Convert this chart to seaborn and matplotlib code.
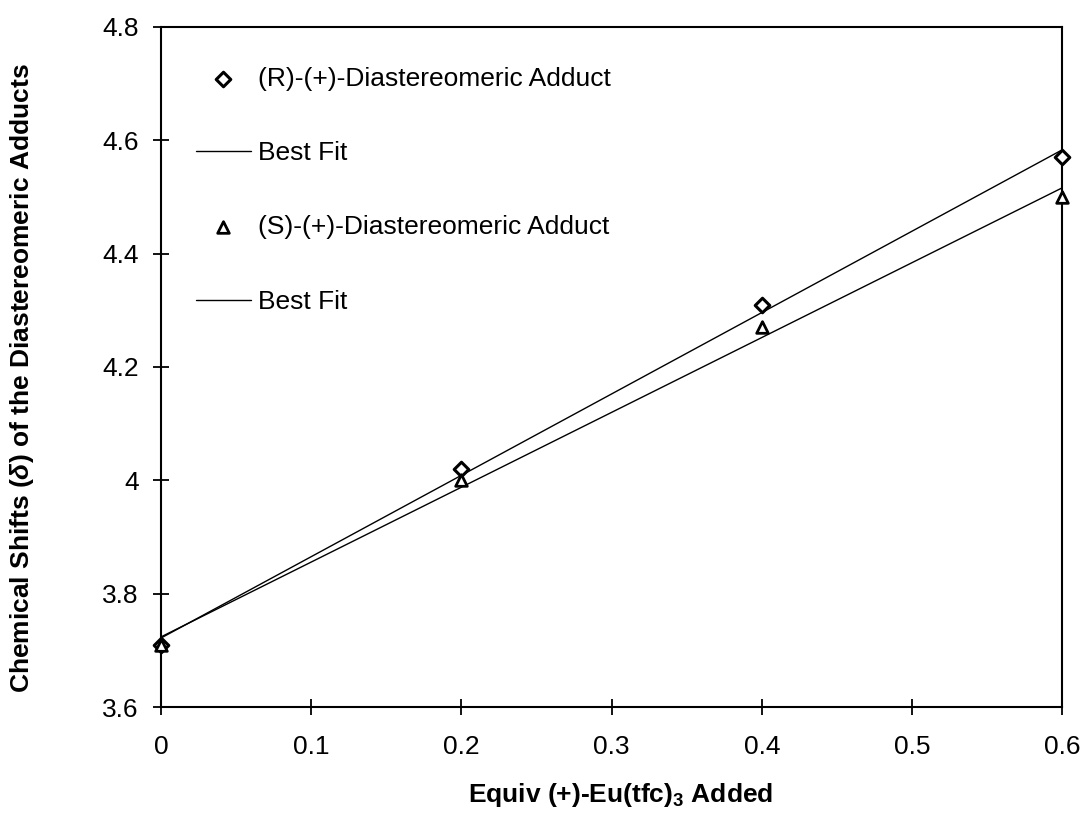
#!/usr/bin/env python
"""Chemical shifts of the diastereomeric adducts vs. equivalents of
(+)-Eu(tfc)3 added, with least-squares best fit lines.
"""
import matplotlib
matplotlib.use('Agg')
import matplotlib.pyplot as plt
import seaborn as sb
import pandas as pd

# values
equiv = [0.0, 0.2, 0.4, 0.6]
shift_r = [3.71, 4.02, 4.31, 4.57]
shift_s = [3.71, 4.00, 4.27, 4.50]

label_r = '(R)-(+)-Diastereomeric Adduct'
label_s = '(S)-(+)-Diastereomeric Adduct'
fit_label = 'Best Fit'

x_ticks = [0, 0.1, 0.2, 0.3, 0.4, 0.5, 0.6]
x_tick_labels = ['0', '0.1', '0.2', '0.3', '0.4', '0.5', '0.6']
y_ticks = [3.6, 3.8, 4.0, 4.2, 4.4, 4.6, 4.8]
y_tick_labels = ['3.6', '3.8', '4', '4.2', '4.4', '4.6', '4.8']


def main():
    sb.set_style('ticks')
    plt.rcParams['font.family'] = ['Liberation Sans', 'DejaVu Sans']
    plt.rcParams['text.color'] = 'black'
    plt.rcParams['axes.labelcolor'] = 'black'
    plt.rcParams['mathtext.fontset'] = 'custom'
    plt.rcParams['mathtext.rm'] = 'Liberation Sans'
    plt.rcParams['mathtext.it'] = 'Liberation Sans:italic:bold'
    plt.rcParams['mathtext.bf'] = 'Liberation Sans:bold'

    df = pd.DataFrame({'equiv': equiv, 'r': shift_r, 's': shift_s})

    fig = plt.figure(figsize=(10.84, 8.35), dpi=100)
    ax = fig.add_axes([0.1485, 0.153, 0.8315, 0.815])

    # best fit lines
    sb.regplot(x='equiv', y='r', data=df, scatter=False, ci=None, truncate=True,
               ax=ax, label=fit_label, line_kws={'color': 'black', 'lw': 1.0})
    sb.regplot(x='equiv', y='s', data=df, scatter=False, ci=None, truncate=True,
               ax=ax, label=fit_label, line_kws={'color': 'black', 'lw': 1.0})

    # data points, open markers
    sb.scatterplot(x='equiv', y='r', data=df, marker='D', s=55, facecolor='white',
                   edgecolor='black', linewidth=2.2, ax=ax, label=label_r,
                   zorder=3, clip_on=False)
    sb.scatterplot(x='equiv', y='s', data=df, marker='^', s=70, facecolor='white',
                   edgecolor='black', linewidth=2.0, ax=ax, label=label_s,
                   zorder=3, clip_on=False)

    ax.set_xlim(0, 0.6)
    ax.set_ylim(3.6, 4.8)
    ax.set_xticks(x_ticks)
    ax.set_xticklabels(x_tick_labels)
    ax.set_yticks(y_ticks)
    ax.set_yticklabels(y_tick_labels)
    ax.tick_params(direction='inout', length=12, width=1.3, labelsize=19,
                   colors='black')
    ax.tick_params(axis='x', pad=14)
    ax.tick_params(axis='y', pad=10)
    for side in ['left', 'right', 'top', 'bottom']:
        ax.spines[side].set_visible(True)
        ax.spines[side].set_linewidth(1.5)
        ax.spines[side].set_color('black')

    ax.set_xlabel(r'Equiv (+)-Eu(tfc)$_\mathbf{3}$ Added', fontsize=19,
                  fontweight='bold')
    ax.set_ylabel(r'Chemical Shifts ($\mathit{\delta}$) of the Diastereomeric Adducts',
                  fontsize=19, fontweight='bold')
    ax.xaxis.set_label_coords(0.51, -0.109)
    ax.yaxis.set_label_coords(-0.139, 0.484)

    # legend, ordered as in the original
    handles, labels = ax.get_legend_handles_labels()
    fits = [i for i, lab in enumerate(labels) if lab == fit_label]
    order = [labels.index(label_r), fits[0], labels.index(label_s), fits[1]]
    ax.legend([handles[i] for i in order], [labels[i] for i in order],
              loc='upper left', bbox_to_anchor=(0.027, 0.957), frameon=False,
              fontsize=19, labelspacing=1.91, handlelength=2.08,
              handletextpad=0.27, borderaxespad=0)

    plt.savefig('out.png', dpi=100)


if __name__ == "__main__":
    main()
